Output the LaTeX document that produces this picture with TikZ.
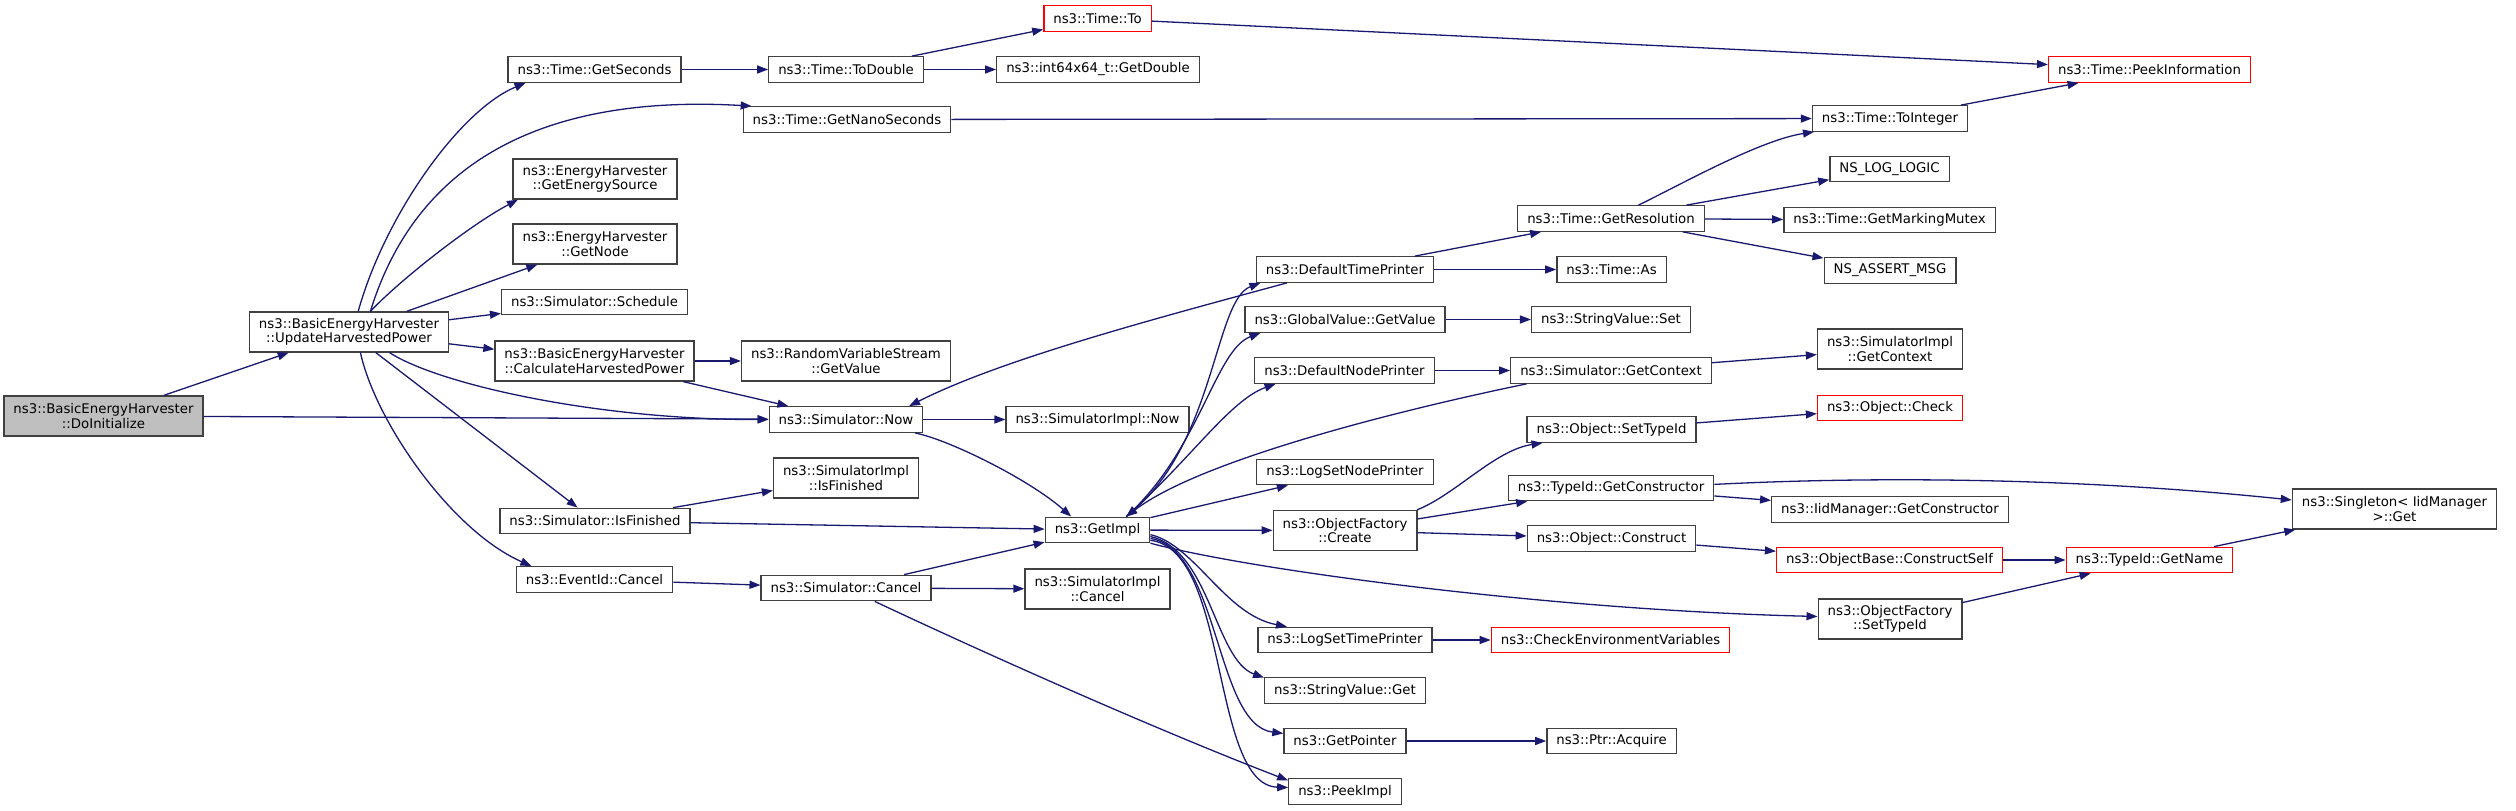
\documentclass[tikz,border=0pt]{standalone}
\usepackage{fontspec}
\setmainfont{DejaVu Sans}
\usetikzlibrary{
  calc,
  positioning,
  arrows.meta}

\definecolor{edgeblue}{HTML}{191970}
\definecolor{boxgray}{HTML}{404040}
\definecolor{rootgray}{HTML}{BFBFBF}

\begin{document}
\begin{tikzpicture}[
  x=1pt, y=-1pt,
  >={Triangle[length=11pt,width=8pt]},
  line width=1.3pt,
  fn/.style={draw=boxgray,fill=white,inner xsep=9.5pt,inner ysep=2pt,minimum height=25.5pt,
    font=\fontsize{13.3}{14.5}\selectfont,align=center},
  fn2/.style={fn,minimum height=40pt},
  fnroot/.style={fn2,fill=rootgray},
  fnred/.style={fn,draw=red},
  call/.style={->,draw=edgeblue}
]%
  \useasboundingbox (0,0) rectangle (2516,811);

  \node[fnroot] (init) at (103.5,416) {ns3::BasicEnergyHarvester\\::DoInitialize};
  \node[fn2] (upd) at (349,332) {ns3::BasicEnergyHarvester\\::UpdateHarvestedPower};

  \node[fn] (secs) at (594.5,69.5) {ns3::Time::GetSeconds};
  \node[fn2] (esrc) at (595,179) {ns3::EnergyHarvester\\::GetEnergySource};
  \node[fn2] (enode) at (595,244) {ns3::EnergyHarvester\\::GetNode};
  \node[fn] (sched) at (594.5,302) {ns3::Simulator::Schedule};
  \node[fn2] (calc) at (594.5,361) {ns3::BasicEnergyHarvester\\::CalculateHarvestedPower};
  \node[fn] (sfin) at (595,521) {ns3::Simulator::IsFinished};
  \node[fn] (ecancel) at (594.5,579.5) {ns3::EventId::Cancel};

  \node[fn] (todbl) at (846,69.5) {ns3::Time::ToDouble};
  \node[fn] (nano) at (847,119.5) {ns3::Time::GetNanoSeconds};
  \node[fn2] (rvs) at (846,361) {ns3::RandomVariableStream\\::GetValue};
  \node[fn] (snow) at (846,419.5) {ns3::Simulator::Now};
  \node[fn2] (ifin) at (846,478) {ns3::SimulatorImpl\\::IsFinished};
  \node[fn] (scancel) at (846,588) {ns3::Simulator::Cancel};

  \node[fnred] (timeto) at (1097.5,18.5) {ns3::Time::To};
  \node[fn] (getdbl) at (1098,69.5) {ns3::int64x64\_t::GetDouble};
  \node[fn] (inow) at (1097.5,419.5) {ns3::SimulatorImpl::Now};
  \node[fn] (getimpl) at (1097.5,530) {ns3::GetImpl};
  \node[fn2] (icancel) at (1097.5,589) {ns3::SimulatorImpl\\::Cancel};

  \node[fn] (dtp) at (1345,269.5) {ns3::DefaultTimePrinter};
  \node[fn] (gval) at (1345,319.5) {ns3::GlobalValue::GetValue};
  \node[fn] (dnp) at (1344.5,370.5) {ns3::DefaultNodePrinter};
  \node[fn] (lsnp) at (1345,472) {ns3::LogSetNodePrinter};
  \node[fn2] (create) at (1345,530.5) {ns3::ObjectFactory\\::Create};
  \node[fn] (lstp) at (1345,640) {ns3::LogSetTimePrinter};
  \node[fn] (sget) at (1345,690.5) {ns3::StringValue::Get};
  \node[fn] (gptr) at (1345,741) {ns3::GetPointer};
  \node[fn] (peek) at (1345,791.5) {ns3::PeekImpl};

  \node[fn] (res) at (1611,218.5) {ns3::Time::GetResolution};
  \node[fn] (tas) at (1611.5,269.5) {ns3::Time::As};
  \node[fn] (sset) at (1611,319.5) {ns3::StringValue::Set};
  \node[fn] (sctx) at (1611,370.5) {ns3::Simulator::GetContext};
  \node[fn] (osettid) at (1611.5,429.5) {ns3::Object::SetTypeId};
  \node[fn] (tgc) at (1611,488) {ns3::TypeId::GetConstructor};
  \node[fn] (ocons) at (1611.5,538.5) {ns3::Object::Construct};
  \node[fnred] (cev) at (1610.5,640) {ns3::CheckEnvironmentVariables};
  \node[fn] (acq) at (1611.5,741) {ns3::Ptr::Acquire};

  \node[fn] (toint) at (1890,118.5) {ns3::Time::ToInteger};
  \node[fn] (nslog) at (1889.5,169) {NS\_LOG\_LOGIC};
  \node[fn] (mutex) at (1889.5,220) {ns3::Time::GetMarkingMutex};
  \node[fn] (nsassert) at (1890,270.5) {NS\_ASSERT\_MSG};
  \node[fn2] (ictx) at (1890,349) {ns3::SimulatorImpl\\::GetContext};
  \node[fnred] (ocheck) at (1890,408) {ns3::Object::Check};
  \node[fn] (iidgc) at (1890,509.5) {ns3::IidManager::GetConstructor};
  \node[fnred] (cself) at (1889.5,560) {ns3::ObjectBase::ConstructSelf};
  \node[fn2] (ofsettid) at (1890,619) {ns3::ObjectFactory\\::SetTypeId};

  \node[fnred] (peekinfo) at (2149.5,69.5) {ns3::Time::PeekInformation};
  \node[fnred] (gname) at (2149.5,560) {ns3::TypeId::GetName};
  \node[fn2] (single) at (2394.5,509) {ns3::Singleton< IidManager\\>::Get};

  % calls
  \draw[call] (init) -- (upd);
  \draw[call] (init) -- (snow);
  \draw[call] (upd.66) .. controls (385,215) and (460,110) .. (secs.191);
  \draw[call] (upd.44) .. controls (420,150) and (560,95) .. (nano.172);
  \draw[call] (upd.44) .. controls (400,280) and (470,225) .. (esrc.195);
  \draw[call] (upd) -- (enode);
  \draw[call] (upd) -- (sched);
  \draw[call] (upd) -- (calc);
  \draw[call] (upd.333) .. controls (440,385) and (600,420) .. (snow.west);
  \draw[call] (upd) -- (sfin);
  \draw[call] (upd.299) .. controls (375,420) and (450,530) .. (ecancel.168);

  \draw[call] (secs) -- (todbl);
  \draw[call] (todbl) -- (timeto);
  \draw[call] (todbl) -- (getdbl);
  \draw[call] (timeto) -- (peekinfo);
  \draw[call] (nano) -- (toint);
  \draw[call] (toint) -- (peekinfo);
  \draw[call] (calc) -- (rvs);
  \draw[call] (calc) -- (snow);
  \draw[call] (snow) -- (inow);
  \draw[call] (snow.349) .. controls (950,440) and (1030,480) .. (getimpl.153);
  \draw[call] (sfin) -- (ifin);
  \draw[call] (sfin) -- (getimpl);
  \draw[call] (ecancel) -- (scancel);
  \draw[call] (scancel) -- (getimpl);
  \draw[call] (scancel) -- (icancel);
  \draw[call] (scancel.335) .. controls (1010,665) and (1170,735) .. (peek.169);

  \draw[call,<->] (getimpl.25) .. controls (1215,440) and (1215,300) .. (dtp.189);
  \draw[call] (getimpl.25) .. controls (1200,450) and (1215,350) .. (gval.189);
  \draw[call] (getimpl.25) .. controls (1190,460) and (1230,400) .. (dnp.191);
  \draw[call] (getimpl) -- (lsnp);
  \draw[call] (getimpl) -- (create);
  \draw[call] (getimpl.346) .. controls (1250,570) and (1550,610) .. (ofsettid.178);
  \draw[call] (getimpl.355) .. controls (1195,545) and (1225,615) .. (lstp.167);
  \draw[call] (getimpl.353) .. controls (1210,550) and (1215,660) .. (sget.171);
  \draw[call] (getimpl.351) .. controls (1220,550) and (1215,725) .. (gptr.173);
  \draw[call] (getimpl.349) .. controls (1230,550) and (1210,785) .. (peek.176);

  \draw[call] (dtp) -- (res);
  \draw[call] (dtp) -- (tas);
  \draw[call] (dtp.193) .. controls (1150,320) and (1000,360) .. (snow.12);
  \draw[call] (gval) -- (sset);
  \draw[call] (dnp) -- (sctx);
  \draw[call] (sctx) -- (ictx);
  \draw[call] (sctx.189) .. controls (1400,410) and (1200,460) .. (getimpl.25);
  \draw[call] (res.26) .. controls (1680,185) and (1760,140) .. (toint.190);
  \draw[call] (res) -- (nslog);
  \draw[call] (res) -- (mutex);
  \draw[call] (res) -- (nsassert);
  \draw[call] (create.16) .. controls (1455,495) and (1495,450) .. (osettid.191);
  \draw[call] (create) -- (tgc);
  \draw[call] (create) -- (ocons);
  \draw[call] (osettid) -- (ocheck);
  \draw[call] (tgc) -- (iidgc);
  \draw[call] (tgc.2) .. controls (1900,475) and (2100,480) .. (single.175);
  \draw[call] (ocons) -- (cself);
  \draw[call] (cself) -- (gname);
  \draw[call] (ofsettid) -- (gname);
  \draw[call] (gname) -- (single);
  \draw[call] (lstp) -- (cev);
  \draw[call] (gptr) -- (acq);
\end{tikzpicture}
\end{document}
